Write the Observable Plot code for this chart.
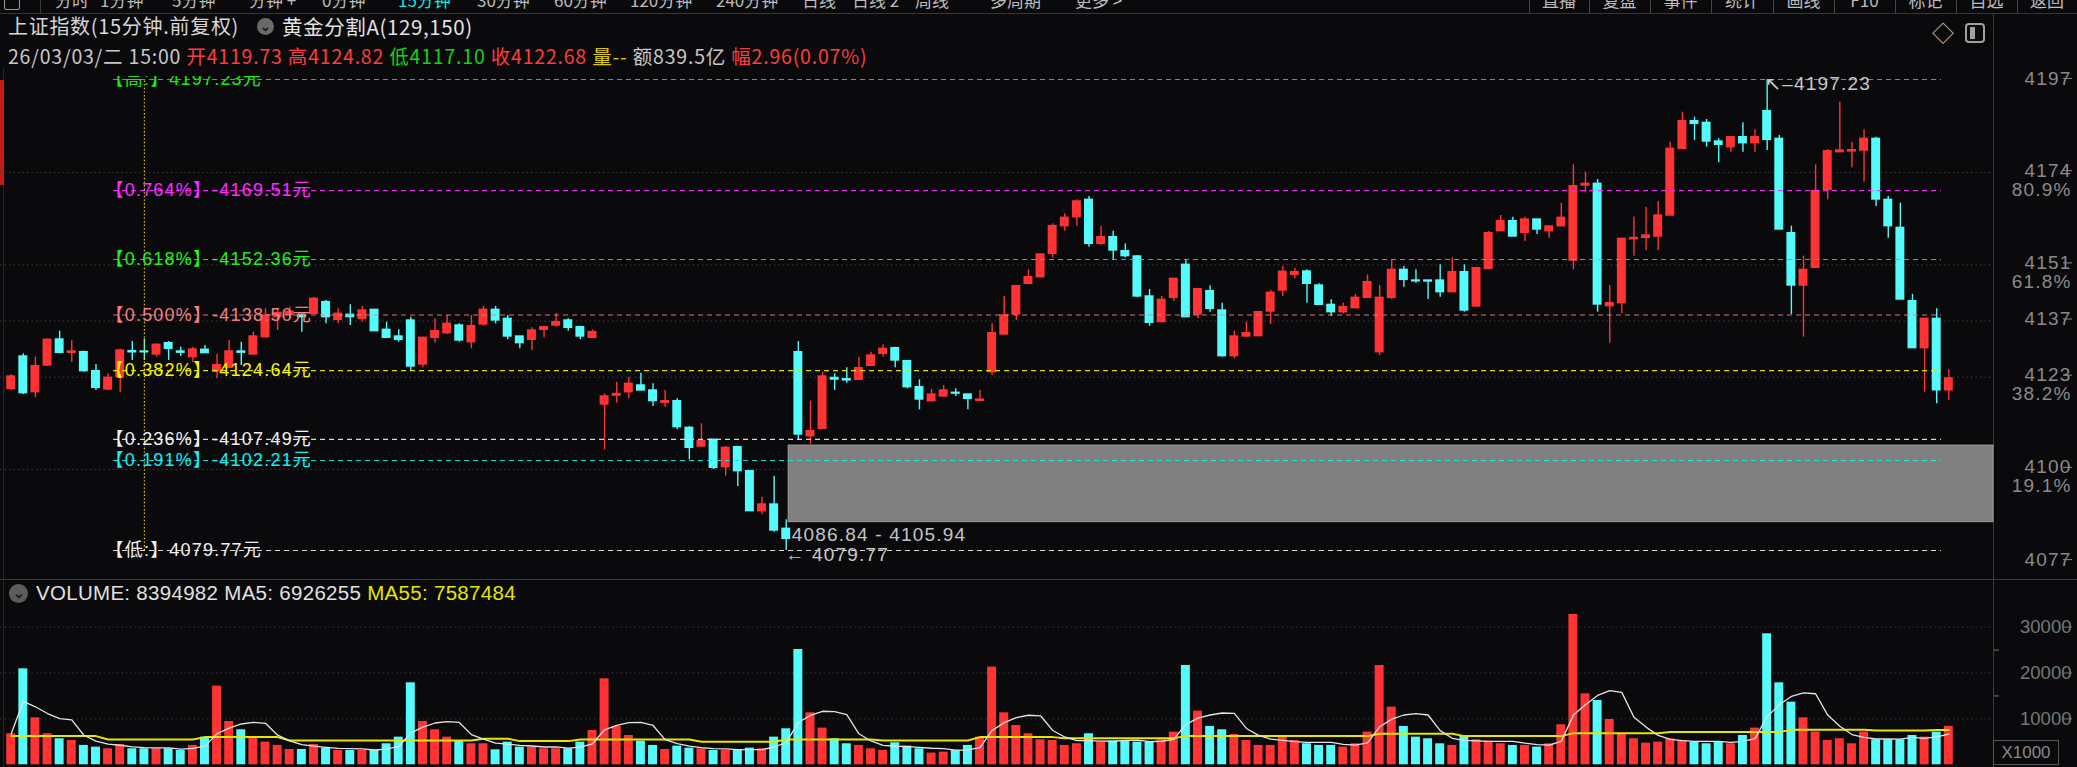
<!DOCTYPE html>
<html><head><meta charset="utf-8">
<script src="https://cdn.jsdelivr.net/npm/d3@7"></script>
<script src="https://cdn.jsdelivr.net/npm/@observablehq/plot@0.6"></script>
<style>
html,body{margin:0;padding:0;background:#0a0a0d;}
#root{position:relative;width:2077px;height:767px;overflow:hidden;background:#0a0a0d;font-family:"Noto Sans CJK SC","Noto Sans",sans-serif;}
.abs{position:absolute;white-space:nowrap;}
.menu{position:absolute;top:-10px;font-size:17px;line-height:20px;color:#bcbcbc;white-space:nowrap;}
</style></head><body><div id="root"></div>
<script>
// ---------- data (15-minute bars, 上证指数) ----------
const opens = [4120.09,4128.16,4119.26,4125.91,4132.40,4129.07,4129.24,4124.50,4119.93,4123.00,
4129.49,4129.40,4128.66,4131.48,4129.40,4127.99,4129.82,4124.50,4125.33,4129.40,
4128.66,4132.98,4138.00,4138.50,4138.38,4138.80,4141.71,4137.30,4138.55,4137.55,
4139.79,4134.81,4133.14,4137.13,4126.16,4132.81,4133.98,4135.89,4131.73,4136.14,
4139.79,4137.55,4133.14,4132.31,4134.81,4135.89,4137.13,4135.47,4132.81,4116.19,
4118.40,4119.26,4120.93,4119.68,4116.60,4117.01,4110.36,4105.71,4107.37,4100.55,
4105.54,4099.56,4089.58,4091.24,4085.18,4129.23,4108.28,4110.11,4122.80,4122.50,
4122.33,4125.82,4128.82,4130.23,4126.99,4120.50,4117.01,4118.18,4119.10,4118.67,
4117.10,4124.25,4133.64,4138.63,4146.28,4147.94,4153.76,4160.66,4162.90,4167.22,
4156.25,4157.91,4154.42,4153.09,4143.12,4136.72,4142.79,4151.02,4138.63,4144.45,
4139.63,4128.24,4133.14,4133.23,4139.38,4144.61,4148.52,4149.35,4145.86,4141.03,
4139.20,4140.20,4142.78,4129.23,4142.78,4149.76,4147.10,4147.10,4147.10,4144.19,
4149.18,4140.62,4150.01,4159.40,4161.90,4158.99,4162.31,4159.40,4160.65,4152.09,
4170.80,4171.21,4140.70,4141.45,4157.40,4157.74,4158.07,4163.31,4179.94,4186.83,
4186.42,4181.76,4180.35,4182.84,4181.35,4189.33,4182.43,4158.90,4145.85,4150.26,
4169.71,4179.10,4179.30,4179.52,4182.43,4167.22,4160.23,4141.95,4130.23,4137.54,
4119.73];
const highs = [4123.59,4128.82,4127.99,4132.56,4134.47,4132.15,4129.49,4126.16,4123.83,4130.00,
4131.90,4132.56,4131.32,4131.90,4130.48,4130.48,4130.90,4128.66,4132.15,4131.73,
4134.23,4140.04,4140.04,4140.50,4138.80,4142.95,4142.12,4140.04,4141.04,4140.63,
4139.79,4136.72,4134.81,4137.97,4132.98,4137.55,4138.38,4136.30,4138.38,4140.63,
4140.63,4138.38,4133.14,4135.31,4135.64,4138.80,4137.55,4135.64,4134.81,4118.85,
4121.76,4123.00,4124.00,4121.34,4119.67,4117.59,4110.69,4111.36,4107.62,4105.71,
4105.71,4099.56,4093.07,4098.31,4087.42,4131.89,4117.01,4124.24,4123.83,4125.32,
4127.98,4129.23,4131.06,4130.48,4127.15,4122.33,4119.92,4120.92,4120.09,4118.67,
4119.67,4136.30,4143.12,4145.86,4149.77,4153.76,4161.24,4163.73,4167.22,4168.06,
4160.66,4159.41,4156.25,4153.34,4144.86,4143.12,4147.52,4152.26,4144.95,4145.78,
4141.46,4134.47,4136.72,4139.21,4144.61,4150.60,4150.18,4149.77,4146.28,4142.28,
4141.45,4143.61,4148.51,4145.85,4152.09,4150.59,4149.76,4147.10,4151.01,4152.75,
4151.01,4150.18,4159.32,4163.31,4162.89,4162.89,4162.31,4160.57,4166.39,4175.95,
4174.12,4172.29,4145.85,4157.49,4162.89,4165.39,4166.80,4181.60,4189.08,4187.83,
4187.25,4182.43,4182.84,4186.42,4184.67,4197.23,4183.26,4160.65,4153.17,4175.95,
4179.77,4191.57,4181.60,4184.67,4182.84,4168.05,4166.39,4143.61,4137.54,4140.04,
4124.82];
const lows = [4119.68,4118.68,4117.85,4125.66,4128.82,4126.74,4124.25,4119.68,4119.68,4119.26,
4127.16,4127.16,4127.99,4127.16,4128.16,4126.74,4128.99,4122.59,4125.08,4125.91,
4128.41,4132.81,4134.64,4137.50,4134.23,4138.80,4136.30,4136.30,4135.89,4136.72,
4134.47,4132.81,4131.73,4124.50,4125.33,4131.48,4133.64,4131.73,4130.07,4135.72,
4136.30,4132.31,4130.07,4129.65,4132.81,4135.47,4134.47,4132.31,4132.81,4104.88,
4116.52,4117.60,4119.68,4115.69,4115.52,4109.86,4102.38,4105.71,4099.97,4098.31,
4095.73,4089.58,4088.75,4084.34,4079.77,4107.20,4106.21,4110.11,4119.67,4121.50,
4122.33,4125.82,4127.98,4125.32,4120.09,4114.85,4117.01,4118.01,4118.18,4114.85,
4117.01,4123.42,4133.64,4137.13,4146.28,4147.94,4152.76,4159.41,4160.66,4155.42,
4155.84,4152.09,4152.76,4142.79,4135.72,4136.72,4141.95,4137.96,4137.55,4139.21,
4127.99,4127.57,4132.98,4133.23,4136.14,4143.12,4147.52,4141.46,4141.04,4138.21,
4138.79,4140.20,4142.78,4128.40,4142.28,4145.44,4146.44,4142.36,4142.94,4144.19,
4139.20,4140.62,4149.76,4159.40,4158.07,4156.83,4158.57,4157.66,4160.65,4149.76,
4168.96,4139.20,4131.47,4138.79,4153.17,4154.58,4154.58,4163.31,4179.94,4182.01,
4180.35,4176.44,4179.10,4179.10,4179.10,4179.52,4159.82,4138.62,4132.97,4150.26,
4167.22,4179.10,4175.20,4171.62,4165.55,4157.66,4142.36,4130.23,4119.25,4116.34,
4117.10];
const closes = [4123.17,4119.01,4125.75,4132.31,4129.07,4129.40,4124.50,4120.34,4122.84,4129.65,
4129.20,4129.20,4131.07,4130.07,4129.10,4129.90,4128.99,4126.00,4129.40,4129.10,
4133.14,4138.38,4139.00,4139.30,4137.97,4142.54,4137.97,4138.80,4137.97,4139.63,
4134.47,4132.81,4132.31,4125.66,4132.81,4134.47,4136.30,4132.15,4135.72,4139.79,
4137.13,4133.14,4131.48,4134.64,4135.47,4136.72,4135.31,4133.14,4134.23,4118.18,
4118.80,4121.34,4119.68,4117.02,4117.00,4110.53,4105.37,4107.04,4100.39,4105.37,
4099.56,4089.58,4091.24,4084.76,4082.68,4108.70,4109.53,4123.16,4122.40,4122.20,
4125.24,4128.40,4130.06,4127.15,4120.50,4117.43,4118.67,4119.67,4118.90,4117.59,
4117.40,4133.97,4138.38,4145.70,4147.94,4153.59,4160.66,4162.74,4166.81,4156.25,
4157.91,4154.59,4153.18,4143.12,4136.55,4142.29,4147.52,4137.96,4144.95,4140.04,
4128.24,4133.14,4133.97,4139.21,4144.03,4149.27,4149.19,4146.28,4141.04,4139.20,
4140.45,4142.78,4146.69,4142.78,4149.76,4147.27,4146.90,4146.85,4144.19,4149.18,
4139.62,4150.18,4158.90,4161.90,4158.07,4162.31,4159.82,4160.57,4162.73,4170.63,
4171.20,4141.12,4141.45,4157.49,4157.70,4158.32,4163.31,4179.94,4186.83,4186.17,
4181.76,4180.93,4182.84,4181.35,4182.84,4182.18,4159.82,4145.85,4149.76,4169.38,
4179.35,4179.52,4179.60,4182.43,4167.30,4160.65,4142.36,4130.23,4137.54,4119.72,
4122.68];
// volume in axis units (X1000)
const volumes = [6760,20910,10240,6760,5670,5300,4220,3850,3490,4430,
3490,3490,3490,3490,3120,4220,6030,17140,9440,7630,
6030,4940,4220,3340,3340,4430,3640,3120,3120,3120,
3120,4580,6030,17860,9440,7630,6030,5160,4580,4580,
3270,4940,3850,3850,3490,3490,3490,4940,7480,18740,
8350,6390,5160,4220,3340,4070,3640,3490,3120,3120,
3120,3640,3490,6030,7850,25120,11330,7990,5670,4580,
4220,3490,3120,4800,4070,3490,2550,2760,3120,4220,
6030,21280,11330,8570,6760,5450,5300,4220,4580,6760,
4940,5160,5160,4940,4940,5450,7120,21640,11690,8350,
7630,6610,5300,4220,4220,6170,5300,4580,4220,4220,
3850,4580,7120,21640,12560,8350,6030,5670,4580,4220,
6170,5450,5160,4580,4220,4220,3850,4580,8720,32750,
15470,14020,9880,6760,5670,4720,4940,5670,5300,4940,
4580,4940,4580,6390,7990,28540,17860,13650,10240,7120,
5300,5670,4580,7120,5450,5450,5450,6390,6030,7120,8395];
// MA55 of volume (X1000 units)
const ma55 = [6250,6250,6250,6250,6250,6250,6250,6250,
5520,5520,5520,5520,5520,5520,5520,5520,
6030,6030,6030,6030,6030,6030,6030,
5300,5300,5300,5300,5300,5300,5300,5300,5300,5300,5300,5300,5300,5300,5300,5300,
5670,5670,5670,
5160,5160,5160,5160,5160,
5520,5520,5520,5520,5520,5520,5520,5520,5520,5520,
5010,5010,5010,5010,5010,5010,5010,
5520,5520,5520,5520,5520,5520,5520,5520,
5300,5300,5300,5300,5300,5300,5300,5300,
6030,6030,6030,6030,6030,6030,6030,
5810,5810,5810,5810,5810,5810,5810,5810,5810,5810,
6250,6250,6250,6250,6250,6250,6250,6250,6250,6250,6250,6250,6250,6250,6250,6250,
6760,6760,6760,6760,6760,6760,6760,
6250,6250,6250,6250,6250,6250,6250,6250,6250,
6900,6900,6900,6900,6900,6900,6900,6900,
7120,7120,7120,7120,7120,7120,7120,7120,7120,7120,
7630,7630,7630,7630,7630,7630,7630,
7480,7480,7480,7480,7480,
7590,7590];

const priceTicks = [4197, 4174, 4151, 4137, 4123, 4100, 4077];
const pctTickValues = [4174, 4151, 4123, 4100];
const pctTickLabels = ["80.9%", "61.8%", "38.2%", "19.1%"];
const gridTicks = [4174, 4151, 4137, 4123, 4100];
const volTicks = [10000, 20000, 30000];
const volMinorTicks = [15000, 25000];

const fibLabels = ["【高:】4197.23元","【0.764%】-4169.51元","【0.618%】-4152.36元","【0.500%】-4138.50元",
                   "【0.382%】-4124.64元","【0.236%】-4107.49元","【0.191%】-4102.21元","【低:】4079.77元"];
const fibValues = [4197.23, 4169.51, 4152.36, 4138.50, 4124.64, 4107.49, 4102.21, 4079.77];
const fibColors = ["#19e619","#ff2cff","#1ef01e","#f08080","#f5f500","#f0f0f0","#10f0f0","#f0f0f0"];
const fibSpan = [8.45, 159.4];      // bar positions where the golden-section tool starts / ends
const fibAnchorBar = 11;
const zone = {low: 4086.84, high: 4105.94, startBar: 64.2};
const highBar = 145, lowBar = 64;

const UP = "#ff3333", DOWN = "#55fafa";
const n = opens.length;
const idx = d3.range(n);
const col = i => closes[i] >= opens[i] ? UP : DOWN;
const ma5 = idx.map(i => d3.mean(volumes.slice(Math.max(0, i - 4), i + 1)));
const xDomain = [-0.8836, 163.69];
const CJK = "'Noto Sans CJK SC', 'Noto Sans', sans-serif";
const AX = "'Liberation Sans', 'DejaVu Sans', sans-serif";
const MIX = "'Liberation Sans', 'Noto Sans CJK SC', sans-serif";

// ---------- page furniture ----------
const root = document.getElementById("root");
function el(tag, css, text) { const e = document.createElement(tag); e.className = "abs"; Object.assign(e.style, css); if (text != null) e.textContent = text; root.appendChild(e); return e; }

// top menu bar
const menuItems = ["分时","1分钟","5分钟","分钟 +","0分钟","15分钟","30分钟","60分钟","120分钟","240分钟","日线","日线 2","周线","多周期","更多 >"];
const menuLefts = [55,100,172,249,322,398,477,554,630,716,802,852,915,990,1075];
menuItems.forEach((t, k) => { const s = el("div", {left: menuLefts[k] + "px"}, t); s.className = "menu"; if (t === "15分钟") s.style.color = "#10e8e8"; });
el("div", {left: "4px", top: "-6px", width: "14px", height: "14px", border: "1.5px solid #9a9a9a", borderRadius: "2px"});
el("div", {left: "40px", top: "0px", width: "1px", height: "13px", background: "#3a3a3a"});
const btns = ["直播","复盘","事件","统计","画线","F10","标记","自选","返回"];
const btnSeps = [1529,1589,1650,1711,1773,1834,1895,1956,2017,2077];
btns.forEach((t, k) => {
  el("div", {left: btnSeps[k] + "px", top: "0px", width: "1px", height: "13px", background: "#444"});
  const s = el("div", {left: btnSeps[k] + "px"}, t); s.className = "menu"; s.style.width = (btnSeps[k+1] - btnSeps[k]) + "px"; s.style.textAlign = "center";
});
el("div", {left: "0px", top: "13px", width: "2077px", height: "1px", background: "#363636"});

// title rows
el("div", {left: "8px", top: "14px", fontSize: "20px", lineHeight: "24px", color: "#d6d6d6", letterSpacing: "0.7px"}, "上证指数(15分钟.前复权)");
el("div", {left: "257px", top: "18px", width: "17px", height: "17px", borderRadius: "50%", background: "#6a6a6a", color: "#1a1a1a", fontSize: "13px", lineHeight: "15px", textAlign: "center", fontWeight: "bold"}, "⌄");
el("div", {left: "282px", top: "14px", fontSize: "20.5px", lineHeight: "24px", color: "#e2e2e2", letterSpacing: "0.6px"}, "黄金分割A(129,150)");

const row3 = el("div", {left: "8px", top: "43.5px", fontSize: "19.5px", lineHeight: "24px", letterSpacing: "0.8px"});
[["26/03/03/二 15:00 ","#c8c8c8"],["开4119.73 ","#ff3c3c"],["高4124.82 ","#ff3c3c"],["低4117.10 ","#14d214"],
 ["收4122.68 ","#ff3c3c"],["量-- ","#d8c800"],["额839.5亿 ","#c8c8c8"],["幅2.96(0.07%)","#ff3c3c"]].forEach(([t,c]) => {
  const s = document.createElement("span"); s.textContent = t; s.style.color = c; row3.appendChild(s);
});
el("div", {left: "1932px", top: "18px", fontSize: "22px", lineHeight: "26px", color: "#b4b4b4"}, "◇");
const box = el("div", {left: "1965px", top: "23px", width: "16px", height: "16px", border: "2px solid #a0a0a0", borderRadius: "4px"});
const bar = document.createElement("div"); Object.assign(bar.style, {position: "absolute", left: "3px", top: "2px", width: "5px", height: "12px", background: "#a0a0a0"}); box.appendChild(bar);

// panel lines
el("div", {left: "1993px", top: "13px", width: "1px", height: "754px", background: "#3c3c3c"});
el("div", {left: "0px", top: "579px", width: "2077px", height: "1px", background: "#3c3c3c"});
el("div", {left: "3px", top: "68px", width: "1px", height: "699px", background: "#262626"});
el("div", {left: "0px", top: "80px", width: "4px", height: "105px", background: "#c41a1a"});

// ---------- main price chart ----------
const fibIdx = d3.range(fibValues.length);
const main = Plot.plot({
  width: 2077, height: 508, marginLeft: 0, marginRight: 84, marginTop: 8, marginBottom: 0,
  style: {background: "transparent", overflow: "visible", fontFamily: CJK, letterSpacing: "1.2px"},
  x: {domain: xDomain, axis: null},
  y: {domain: [4073.288, 4197.978]},
  color: {type: "identity"},
  marks: [
    Plot.ruleY(gridTicks, {stroke: "#444", strokeDasharray: "1.3,3.2"}),
    Plot.rect([zone], {x1: d => d.startBar, x2: xDomain[1], y1: d => d.low, y2: d => d.high, fill: "#808080", stroke: "#9c9c9c", strokeWidth: 1}),
    Plot.ruleX(idx, {x: d => d, y1: d => lows[d], y2: d => highs[d], stroke: col, strokeWidth: 1.4, clip: true}),
    Plot.rect(idx, {x1: d => d - 0.37, x2: d => d + 0.37, y1: d => Math.min(opens[d], closes[d]), y2: d => Math.max(opens[d], closes[d]), fill: col, insetTop: -0.7, insetBottom: -0.7, clip: true}),
    Plot.ruleY(fibIdx, {y: i => fibValues[i], x1: fibSpan[0], x2: fibSpan[1], stroke: i => fibColors[i], strokeDasharray: "5,4", strokeWidth: 1.1, strokeOpacity: 0.9}),
    Plot.ruleX([fibAnchorBar], {x: d => d, y1: fibValues[fibValues.length - 1], y2: fibValues[0], stroke: "#e0d000", strokeDasharray: "1.4,2.2", strokeWidth: 1.2}),
    Plot.text(fibIdx, {x: fibSpan[0], y: i => fibValues[i], text: i => fibLabels[i], fill: i => fibColors[i], textAnchor: "start", dx: -8, fontSize: 18, fontFamily: MIX, clip: true}),
    Plot.text([highBar], {x: d => d, y: d => highs[d], text: d => "↖–" + highs[d].toFixed(2), textAnchor: "start", lineAnchor: "top", dx: -2, dy: -3, fill: "#c8c8c8", fontSize: 19, fontFamily: AX}),
    Plot.text([lowBar], {x: d => d, y: d => lows[d], text: d => "← " + lows[d].toFixed(2), textAnchor: "start", dx: -1, dy: 4, fill: "#c8c8c8", fontSize: 19, fontFamily: AX}),
    Plot.text([zone], {x: d => d.startBar, y: d => d.low, text: d => `${d.low.toFixed(2)} - ${d.high.toFixed(2)}`, textAnchor: "start", lineAnchor: "top", dx: 3, dy: 5, fill: "#c4c4c4", fontSize: 19, fontFamily: AX}),
    Plot.axisY(priceTicks, {anchor: "right", tickSize: 9, tickPadding: 0, textAnchor: "end", dx: 69, dy: -2, fontSize: 19, fontFamily: AX, color: "#8a8a8a", tickFormat: d => String(d), label: null}),
    Plot.axisY(pctTickValues, {anchor: "right", tickSize: 0, tickPadding: 9, textAnchor: "end", dx: 69, dy: 17, fontSize: 19, fontFamily: AX, color: "#8a8a8a", tickFormat: d => pctTickLabels[pctTickValues.indexOf(d)], label: null})
  ]
});
Object.assign(main.style, {position: "absolute", left: "0px", top: "68px"});
root.appendChild(main);

// ---------- volume chart ----------
const volPlot = Plot.plot({
  width: 2077, height: 188, marginLeft: 0, marginRight: 84, marginTop: 0, marginBottom: 0,
  style: {background: "transparent", overflow: "visible", fontFamily: AX},
  x: {domain: xDomain, axis: null},
  y: {domain: [-588, 40370]},
  color: {type: "identity"},
  marks: [
    Plot.ruleY(volTicks, {stroke: "#3c3c3c", strokeDasharray: "1.3,3.2"}),
    Plot.rect(idx, {x1: d => d - 0.37, x2: d => d + 0.37, y1: 0, y2: d => volumes[d], fill: col}),
    Plot.line(idx, {x: d => d, y: d => ma55[d], stroke: "#e6e600", strokeWidth: 2}),
    Plot.line(idx, {x: d => d, y: d => ma5[d], stroke: "#e4e4e4", strokeWidth: 1.3}),
    Plot.axisY(volTicks, {anchor: "right", tickSize: 9, tickPadding: 0, textAnchor: "end", dx: 69, fontSize: 18.5, fontFamily: AX, color: "#777", tickFormat: d => String(d), label: null}),
    Plot.axisY(volMinorTicks, {anchor: "right", tickSize: 5, tickFormat: () => "", color: "#777", label: null})
  ]
});
Object.assign(volPlot.style, {position: "absolute", left: "0px", top: "579px"});
root.appendChild(volPlot);

// volume header
el("div", {left: "9px", top: "584px", width: "19px", height: "19px", borderRadius: "50%", background: "#5c5c5c", color: "#1a1a1a", fontSize: "14px", lineHeight: "16px", textAlign: "center", fontWeight: "bold"}, "⌄");
const vh = el("div", {left: "36px", top: "581px", fontSize: "20.5px", lineHeight: "24px", fontFamily: AX, letterSpacing: "0.3px"});
[["VOLUME: 8394982 MA5: 6926255 ","#e0e0e0"],["MA55: 7587484","#e6e600"]].forEach(([t,c]) => { const s = document.createElement("span"); s.textContent = t; s.style.color = c; vh.appendChild(s); });
el("div", {left: "1993px", top: "740px", width: "64px", height: "23px", border: "1px solid #555", color: "#888", fontSize: "17px", lineHeight: "23px", textAlign: "center", fontFamily: AX}, "X1000");
</script></body></html>
